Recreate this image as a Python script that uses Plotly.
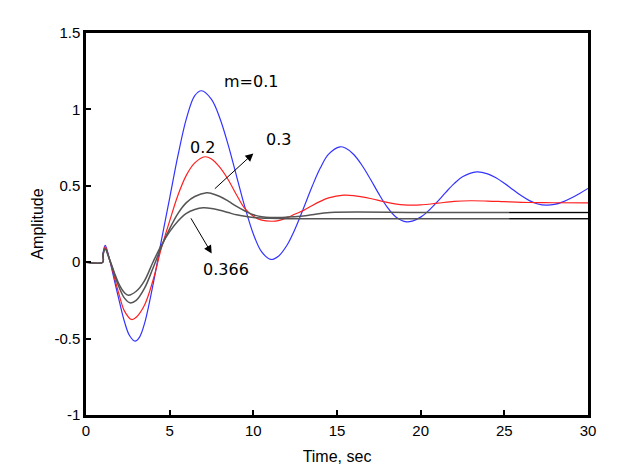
import plotly.graph_objects as go

# step responses (time in sec)
t_01 = [0, 1.0, 1.02, 1.15, 1.4, 1.7, 2.0, 2.3, 2.6, 2.93, 3.2, 3.5, 4.0, 4.5, 5.0, 5.5, 6.0, 6.5, 6.9,
        7.5, 8.0, 8.5, 9.0, 9.5, 10.0, 10.5, 11.06, 11.5, 12.0, 12.5, 13.0, 13.5, 14.0, 14.5, 15.18,
        15.5, 16.0, 16.5, 17.0, 17.5, 18.0, 18.5, 19.16, 19.5, 20.0, 20.5, 21.0, 21.5, 22.0, 22.5, 23.35,
        24.0, 24.5, 25.0, 25.5, 26.0, 26.5, 27.0, 27.5, 28.0, 28.5, 29.0, 29.5, 30.0]
m_01 = [0, 0, 0.06, 0.11, 0.02, -0.12, -0.26, -0.39, -0.48, -0.517, -0.49, -0.40, -0.15, 0.14, 0.42, 0.70, 0.94, 1.09, 1.122,
        1.066, 0.942, 0.766, 0.562, 0.359, 0.185, 0.067, 0.018, 0.039, 0.109, 0.219, 0.353, 0.492, 0.616, 0.707, 0.755,
        0.747, 0.705, 0.633, 0.543, 0.447, 0.361, 0.298, 0.264, 0.269, 0.295, 0.340, 0.396, 0.457, 0.514, 0.559, 0.591,
        0.578, 0.552, 0.516, 0.476, 0.436, 0.403, 0.381, 0.373, 0.378, 0.395, 0.42, 0.45, 0.483]

t_02 = [0, 1.0, 1.02, 1.15, 1.4, 1.7, 2.0, 2.3, 2.73, 3.0, 3.5, 4.0, 4.5, 5.0, 5.5, 6.0, 6.5, 7.11,
        7.5, 8.0, 8.5, 9.0, 9.5, 10.0, 10.5, 11.1, 11.5, 12.0, 12.5, 13.0, 13.5, 14.0, 14.5, 15.4,
        16.0, 17.0, 18.0, 19.0, 19.5, 20.0, 21.0, 22.0, 23.0, 24.0, 25.0, 26.0, 27.0, 28.0, 30.0]
m_02 = [0, 0, 0.05, 0.10, 0.02, -0.10, -0.22, -0.32, -0.375, -0.36, -0.28, -0.12, 0.09, 0.27, 0.44, 0.57, 0.65, 0.69,
        0.675, 0.62, 0.54, 0.44, 0.35, 0.30, 0.275, 0.268, 0.272, 0.29, 0.315, 0.339, 0.370, 0.398, 0.421, 0.439,
        0.436, 0.417, 0.392, 0.375, 0.373, 0.375, 0.386, 0.398, 0.402, 0.400, 0.396, 0.392, 0.390, 0.389, 0.388]

t_03 = [0, 1.0, 1.02, 1.15, 1.4, 1.7, 2.0, 2.3, 2.63, 3.0, 3.5, 4.0, 4.5, 5.0, 5.5, 6.0, 6.5, 7.21,
        7.5, 8.0, 8.5, 9.0, 9.5, 10.0, 10.5, 11.0, 12.0, 12.8, 13.5, 14.6, 20.0, 25.3, 30.0]
m_03 = [0, 0, 0.05, 0.09, 0.02, -0.08, -0.17, -0.235, -0.266, -0.25, -0.17, -0.04, 0.10, 0.22, 0.32, 0.39, 0.43, 0.454,
        0.45, 0.43, 0.40, 0.365, 0.335, 0.31, 0.298, 0.293, 0.295, 0.30, 0.31, 0.325, 0.325, 0.325, 0.325]

t_0366 = [0, 1.0, 1.02, 1.15, 1.4, 1.7, 2.0, 2.3, 2.53, 3.0, 3.5, 4.0, 4.5, 5.0, 5.5, 6.0, 6.5, 7.0,
          7.5, 8.0, 8.5, 9.0, 9.5, 10.0, 11.0, 12.0, 13.5, 20.0, 25.3, 30.0]
m_0366 = [0, 0, 0.05, 0.085, 0.02, -0.07, -0.15, -0.2, -0.216, -0.19, -0.12, 0.0, 0.11, 0.2, 0.27, 0.32, 0.345, 0.356,
          0.352, 0.34, 0.325, 0.31, 0.30, 0.293, 0.287, 0.284, 0.285, 0.285, 0.285, 0.285]

x_ticks = [0, 5, 10, 15, 20, 25, 30]
y_ticks = [-1, -0.5, 0, 0.5, 1, 1.5]
y_tick_text = ["-1", "-0.5", "0", "0.5", "1", "1.5"]

FONT = "Liberation Sans, Arial"

fig = go.Figure()
fig.add_trace(go.Scatter(x=t_01, y=m_01, mode="lines", line=dict(color="#3333ff", width=1.2, shape="spline")))
fig.add_trace(go.Scatter(x=t_02, y=m_02, mode="lines", line=dict(color="#ff2020", width=1.2, shape="spline")))
for tt, mm in [(t_03, m_03), (t_0366, m_0366)]:
    fig.add_trace(go.Scatter(x=tt, y=mm, mode="lines", line=dict(color="#555555", width=1.5, shape="spline")))
    # the tails past ~25 s are drawn plain black in the original
    tail = [(a, b) for a, b in zip(tt, mm) if a >= 25.3]
    fig.add_trace(go.Scatter(x=[a for a, b in tail], y=[b for a, b in tail], mode="lines",
                             line=dict(color="black", width=1)))

txt = dict(font=dict(family="DejaVu Sans", size=16, color="black"), showarrow=False)
fig.add_annotation(x=9.86, y=1.18, text="m=0.1", **txt)
fig.add_annotation(x=6.99, y=0.75, text="0.2", **txt)
fig.add_annotation(x=11.48, y=0.80, text="0.3", **txt)
fig.add_annotation(x=8.37, y=-0.05, text="0.366", **txt)
arrow = dict(showarrow=True, arrowhead=2, arrowsize=1.6, arrowwidth=1, arrowcolor="black",
             xref="x", yref="y", axref="x", ayref="y", text="")
fig.add_annotation(x=10.0, y=0.712, ax=7.61, ay=0.472, **arrow)
fig.add_annotation(x=7.51, y=0.057, ax=6.22, ay=0.297, **arrow)

axis = dict(showline=True, mirror=True, linecolor="black", linewidth=2.5, ticks="inside", ticklen=5,
            tickwidth=2, tickcolor="black", showgrid=False, zeroline=False,
            tickfont=dict(family=FONT, size=15, color="black"))
# page body adds an 8px offset, so left/top margins are 8px smaller
fig.update_layout(
    width=619, height=475,
    showlegend=False,
    plot_bgcolor="white",
    paper_bgcolor="white",
    margin=dict(l=78, r=39, t=25, b=68),
    xaxis=dict(range=[0, 30], tickvals=x_ticks,
               title=dict(text="Time, sec", font=dict(family=FONT, size=16, color="black"), standoff=14),
               **axis),
    yaxis=dict(range=[-1, 1.5], tickvals=y_ticks, ticktext=y_tick_text,
               title=dict(text="Amplitude", font=dict(family=FONT, size=16, color="black"), standoff=7),
               **axis),
)
fig.write_html("out.html")
